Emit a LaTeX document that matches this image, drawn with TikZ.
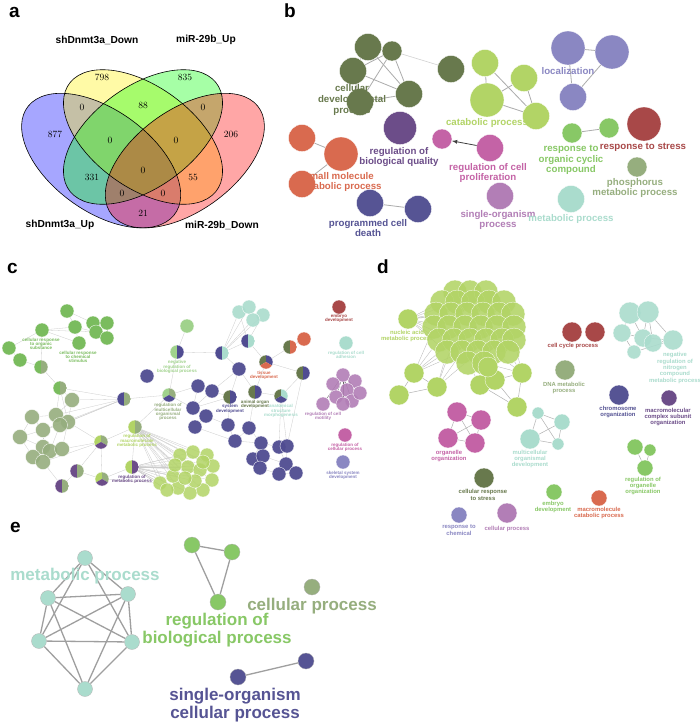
\documentclass[tikz,border=0pt]{standalone}
\usepackage{fontspec}
\setsansfont{Liberation Sans}
\usetikzlibrary{arrows,positioning,shapes}

\definecolor{olv}{RGB}{104,121,77}
\definecolor{prp}{RGB}{108,77,137}
\definecolor{orr}{RGB}{217,106,79}
\definecolor{dbl}{RGB}{86,84,148}
\definecolor{lim}{RGB}{178,212,102}
\definecolor{pnk}{RGB}{196,99,166}
\definecolor{lil}{RGB}{178,126,182}
\definecolor{per}{RGB}{138,135,194}
\definecolor{grn}{RGB}{136,200,102}
\definecolor{drd}{RGB}{168,72,72}
\definecolor{sag}{RGB}{150,174,126}
\definecolor{mnt}{RGB}{170,220,205}
\definecolor{cgr}{RGB}{122,188,94}
\definecolor{lgr}{RGB}{160,210,140}
\definecolor{cbl}{RGB}{80,76,145}

\pgfdeclarelayer{bg}
\pgfsetlayers{bg,main}

\begin{document}
\begin{tikzpicture}[x=1pt, y=-1pt,
    go/.style 2 args={circle, inner sep=0pt, fill=#1, minimum size=#2pt, draw=white, line width=.3pt},
    half/.style 2 args={circle, inner sep=0pt, minimum size=14pt, draw=white, line width=.3pt,
      path picture={\fill[#1] (path picture bounding box.south west) rectangle (path picture bounding box.north);
        \fill[#2] (path picture bounding box.south) rectangle (path picture bounding box.north east);}},
    tri/.style n args={3}{circle, inner sep=0pt, minimum size=14pt, draw=white, line width=.3pt,
      path picture={\fill[#1] (path picture bounding box.center) -- ++(90:8pt) arc[start angle=90, end angle=210, radius=8pt] -- cycle;
        \fill[#2] (path picture bounding box.center) -- ++(90:8pt) arc[start angle=90, end angle=-30, radius=8pt] -- cycle;
        \fill[#3] (path picture bounding box.center) -- ++(210:8pt) arc[start angle=210, end angle=330, radius=8pt] -- cycle;}},
    lb/.style={font=\sffamily\bfseries\fontsize{9.7}{10.7}\selectfont, align=center, inner sep=0pt},
    lc/.style={font=\sffamily\bfseries\fontsize{4.5}{4.3}\selectfont, align=center, inner sep=0pt},
    ld/.style={font=\sffamily\bfseries\fontsize{5.9}{6.3}\selectfont, align=center, inner sep=0pt},
    le/.style={font=\sffamily\bfseries\fontsize{17}{17.5}\selectfont, align=center, inner sep=0pt},
    panel/.style={font=\sffamily\bfseries\fontsize{19}{19}\selectfont, anchor=base west, inner sep=0pt},
    vset/.style={font=\sffamily\bfseries\fontsize{10.2}{10.2}\selectfont, inner sep=0pt},
    vnum/.style={font=\fontsize{9.5}{9.5}\selectfont, inner sep=0pt},
    eb/.style={draw=gray!65, line width=.8pt},
    ec/.style={draw=gray!40, line width=.3pt},
    ee/.style={draw=gray!75, line width=1.3pt}
]
\begin{pgfonlayer}{bg}
\fill[white] (0,0) rectangle (700,724);
\end{pgfonlayer}
\useasboundingbox (0,0) rectangle (700,724);

% panel letters
\node[panel] (pa) at (9,17) {a};
\node[panel] (pb) at (284,17) {b};
\node[panel] (pc) at (7,273) {c};
\node[panel] (pd) at (377,273) {d};
\node[panel] (pe) at (10,532) {e};

% a: Venn diagram
\begin{scope}[shift={(143,137)}, xscale=2.79, yscale=2.36, x=100pt, y=100pt]
  \fill[blue, fill opacity=.35, rotate around={135:(-0.15,-0.10)}] (-0.15,-0.10) ellipse (0.35 and 0.2);
  \fill[yellow, fill opacity=.35, rotate around={135:(0,0)}] (0,0) ellipse (0.35 and 0.2);
  \fill[green, fill opacity=.35, rotate around={45:(0,0)}] (0,0) ellipse (0.35 and 0.2);
  \fill[red, fill opacity=.35, rotate around={45:(0.15,-0.10)}] (0.15,-0.10) ellipse (0.35 and 0.2);
  \draw[line width=.6pt, rotate around={135:(-0.15,-0.10)}] (-0.15,-0.10) ellipse (0.35 and 0.2);
  \draw[line width=.6pt, rotate around={135:(0,0)}] (0,0) ellipse (0.35 and 0.2);
  \draw[line width=.6pt, rotate around={45:(0,0)}] (0,0) ellipse (0.35 and 0.2);
  \draw[line width=.6pt, rotate around={45:(0.15,-0.10)}] (0.15,-0.10) ellipse (0.35 and 0.2);
\end{scope}
\node[vset] (sdown) at (97,40) {shDnmt3a\_Down};
\node[vset] (mup) at (206,40) {miR-29b\_Up};
\node[vset] (sup) at (60,225) {shDnmt3a\_Up};
\node[vset] (mdown) at (222,225) {miR-29b\_Down};
\foreach \x/\y/\n [count=\i] in {55/134/877, 102/77/798, 185/77/835, 231/134/206, 82/107/0, 143/105/88,
    203/107/0, 110/140/0, 176/140/0, 92/177/331, 143/170/0, 193/177/55, 122/193/0, 163/193/0, 143/213/21}
  \node[vnum] (v\i) at (\x,\y) {\n};

% b: network
\node[go={olv}{27}] (ba1) at (368,47) {};
\node[go={olv}{20}] (ba2) at (392,51) {};
\node[go={olv}{27}] (ba3) at (353,71) {};
\node[go={olv}{27}] (ba4) at (409,94) {};
\node[go={olv}{27}] (ba5) at (360,102) {};
\node[go={olv}{27}] (ba6) at (451,69) {};
\node[go={prp}{33}] (bq) at (400,128) {};
\node[go={orr}{27}] (bs1) at (302,138) {};
\node[go={orr}{34}] (bs2) at (341,154) {};
\node[go={orr}{27}] (bs3) at (302,184) {};
\node[go={dbl}{27}] (bp1) at (370,203) {};
\node[go={dbl}{27}] (bp2) at (418,209) {};
\node[go={lim}{27}] (bk1) at (485,63) {};
\node[go={lim}{34}] (bk2) at (487,100) {};
\node[go={lim}{27}] (bk3) at (524,78) {};
\node[go={lim}{27}] (bk4) at (536,116) {};
\node[go={pnk}{20}] (bc1) at (442,139) {};
\node[go={pnk}{27}] (bc2) at (490,148) {};
\node[go={lil}{27}] (bo) at (500,196) {};
\node[go={per}{34}] (bl1) at (568,48) {};
\node[go={per}{34}] (bl2) at (612,52) {};
\node[go={per}{27}] (bl3) at (573,97) {};
\node[go={grn}{20}] (br1) at (572,133) {};
\node[go={grn}{20}] (br2) at (609,128) {};
\node[go={drd}{34}] (bt) at (644,124) {};
\node[go={sag}{20}] (bh) at (637,167) {};
\node[go={mnt}{27}] (bm) at (571,199) {};
\begin{pgfonlayer}{bg}
\foreach \a/\b in {ba1/ba3, ba1/ba2, ba2/ba4, ba2/ba3, ba3/ba4, ba5/ba2, ba5/ba4, ba3/ba5, ba1/ba4,
    bs1/bs2, bs2/bs3, bp1/bp2, bk1/bk2, bk1/bk4, bk2/bk3, bk2/bk4, bk3/bk4, bl1/bl2, bl1/bl3, bl2/bl3, br1/br2}
  \draw[eb] (\a) -- (\b);
\draw[draw=gray!35, line width=.6pt] (ba2) -- (ba6);
\end{pgfonlayer}
\draw[-latex, line width=.8pt, black!75] (bc2) -- (bc1);
\node[lb, text=olv] (tb1) at (352,100) {cellular\\developmental\\process};
\node[lb, text=prp] (tb2) at (399,157) {regulation of\\biological quality};
\node[lb, text=orr] (tb3) at (339,182) {small molecule\\metabolic process};
\node[lb, text=dbl] (tb4) at (368,228) {programmed cell\\death};
\node[lb, text=lim] (tb5) at (487,123) {catabolic process};
\node[lb, text=pnk] (tb6) at (488,173) {regulation of cell\\proliferation};
\node[lb, text=lil] (tb7) at (498,220) {single-organism\\process};
\node[lb, text=per] (tb8) at (568,71) {localization};
\node[lb, text=grn] (tb9) at (571,160) {response to\\organic cyclic\\compound};
\node[lb, text=drd] (tb10) at (643,147) {response to stress};
\node[lb, text=sag] (tb11) at (635,188) {phosphorus\\metabolic process};
\node[lb, text=mnt] (tb12) at (571,219) {metabolic process};

% c: network
\foreach \x/\y [count=\i] in {67/311, 93/323, 107/323, 75/327, 96/332, 107/338, 79/343, 42/330, 9/348, 20/360}
  \node[go={cgr}{14}] (cg\i) at (\x,\y) {};
\node[half={cgr}{sag}] (ch1) at (41,367) {};
\node[half={cgr}{sag}] (ch2) at (60,388) {};
\foreach \x/\y [count=\i] in {72/400, 32/417, 20/437, 43/430, 56/415, 68/422, 60/425, 43/447, 50/451, 62/449, 33/457, 43/462}
  \node[go={sag}{15}, fill opacity=.9] (cs\i) at (\x,\y) {};
\node[half={cbl}{sag}] (cx1) at (124,399) {};
\node[go={lgr}{14}] (cl1) at (187,326) {};
\node[half={lgr}{cbl}] (cx2) at (177,352) {};
\node[tri={lgr}{sag}{cbl}] (cx3) at (169,395) {};
\foreach \x/\y [count=\i] in {147/376, 198/386, 212/391, 239/369, 193/408, 206/416, 195/427, 228/425, 249/428,
    235/441, 261/443, 279/447, 287/446, 253/459, 263/456, 260/468, 286/464, 279/474, 296/473}
  \node[go={cbl}{14}, fill opacity=.95] (cb\i) at (\x,\y) {};
\node[half={cbl}{mnt}] (cx4) at (222,353) {};
\node[half={cbl}{mnt}] (cx5) at (248,341) {};
\foreach \x/\y [count=\i] in {239/312, 249/307, 263/315, 253/320}
  \node[go={mnt}{14}, fill opacity=.9] (cm\i) at (\x,\y) {};
\node[half={olv}{cbl}] (cx6) at (230,397) {};
\node[half={olv}{cbl}] (cx7) at (255,392) {};
\node[half={olv}{cbl}] (cx8) at (303,373) {};
\node[tri={olv}{cbl}{orr}] (cx9) at (266,362) {};
\node[tri={olv}{mnt}{cbl}] (cx10) at (281,396) {};
\node[half={olv}{orr}] (cx11) at (290,347) {};
\node[go={orr}{14}] (cr1) at (304,339) {};
\node[half={lim}{sag}] (cx12) at (135,427) {};
\node[half={lim}{prp}] (cx13) at (132,467) {};
\node[tri={lim}{sag}{prp}] (cx14) at (101,442) {};
\node[tri={lim}{sag}{prp}] (cx15) at (102,479) {};
\node[half={prp}{sag}] (cx16) at (77,471) {};
\node[half={prp}{sag}] (cx17) at (62,486) {};
\foreach \x/\y [count=\i] in {180/455, 193/452, 207/455, 213/466, 212/480, 203/490, 190/493, 178/488, 173/476,
    175/465, 188/467, 200/470, 195/481, 185/478, 203/462, 160/483, 167/490}
  \node[go={lim}{14}, fill opacity=.85] (ck\i) at (\x,\y) {};
\node[go={drd}{14}] (cr2) at (339,307) {};
\node[go={mnt}{14}] (cm5) at (346,343) {};
\foreach \x/\y [count=\i] in {343/375, 355/381, 333/384, 347/390, 336/397, 352/401, 360/393, 323/404, 343/404}
  \node[go={lil}{14}, fill opacity=.9] (co\i) at (\x,\y) {};
\node[go={pnk}{14}] (cp1) at (345,435) {};
\node[go={per}{14}] (cw1) at (343,462) {};
\begin{pgfonlayer}{bg}
\foreach \a/\b in {cg1/cg2, cg1/cg4, cg2/cg3, cg2/cg5, cg4/cg5, cg3/cg6, cg5/cg6, cg4/cg7, cg8/cg4, cg8/cg7,
    cg8/cg5, cg8/cg9, cg9/cg10, cg10/ch1, ch1/cg8, ch1/ch2, ch2/cs1, ch2/cs5, ch2/cs6, ch2/cx1,
    cs1/cs5, cs1/cs6, cs2/cs4, cs2/cs5, cs3/cs4, cs3/cs8, cs4/cs7, cs4/cs8, cs5/cs7, cs6/cs10, cs7/cs9,
    cs8/cs11, cs9/cs12, cs10/cs12, cs11/cs12, cs2/cs3, cs3/cs11,
    cx1/cs5, cx1/cs6, cx1/cs7, cx1/cs1, cx1/cs4, cx1/cx3, cx3/cx2, cx3/cb2, cx3/cb5, cx3/cx12, cx2/cl1, cx2/cx4,
    cb2/cb3, cb2/cb5, cb3/cb4, cb3/cx6, cb3/cb5, cb4/cx4, cb4/cx6, cb4/cx7, cx4/cm1, cx4/cm2, cx4/cm3, cx4/cm4,
    cx5/cm1, cx5/cm3, cx4/cx5, cx5/cx9, cx9/cx11, cx11/cr1, cx9/cx7, cx9/cx8, cx7/cx10, cx10/cx8, cx10/cb12,
    cx10/cb13, cx8/cb13, cx6/cb8, cx7/cb9, cb5/cb6, cb6/cb7, cb6/cb8, cb8/cb10, cb9/cb10, cb9/cb11, cb10/cb11,
    cb11/cb12, cb11/cb14, cb12/cb13, cb12/cb17, cb14/cb15, cb15/cb16, cb16/cb18, cb17/cb18, cb17/cb19,
    cb18/cb19, cb13/cb17, cb15/cb17, cb14/cb16, cb7/cb10, cb5/cx6,
    cx12/cx14, cx12/cx13, cx14/cx15, cx14/cx16, cx15/cx16, cx16/cx17, cx15/cx13, cx14/cs6, cx14/cs10,
    cx14/cs12, cx17/cs12, cx15/ck16, cx13/ck16, cx13/ck17}
  \draw[ec] (\a) -- (\b);
\foreach \j in {1,...,17} {
  \draw[ec] (cx12) -- (ck\j);
  \draw[ec] (cx13) -- (ck\j);
}
\foreach \j in {2,...,9}
  \draw[ec, draw=black!70] (co1) -- (co\j);
\end{pgfonlayer}
\node[lc, text=cgr] (tc1) at (41,344) {cellular response\\to organic\\substance};
\node[lc, text=cgr] (tc2) at (78,357) {cellular response\\to chemical\\stimulus};
\node[lc, text=lgr] (tc3) at (177,367) {negative\\regulation of\\biological process};
\node[lc, text=sag] (tc4) at (168,412) {regulation of\\multicellular\\organismal\\process};
\node[lc, text=orr] (tc5) at (264,375) {tissue\\development};
\node[lc, text=olv] (tc6) at (255,404) {animal organ\\development};
\node[lc, text=cbl] (tc7) at (230,409) {system\\development};
\node[lc, text=mnt] (tc8) at (281,411) {anatomical\\structure\\morphogenesis};
\node[lc, text=lim] (tc9) at (137,441) {regulation of\\macromolecule\\metabolic process};
\node[lc, text=prp] (tc10) at (132,479) {regulation of\\metabolic process};
\node[lc, text=drd] (tc11) at (339,318) {embryo\\development};
\node[lc, text=mnt] (tc12) at (346,355) {regulation of cell\\adhesion};
\node[lc, text=lil] (tc13) at (323,416) {regulation of cell\\motility};
\node[lc, text=pnk] (tc14) at (345,447) {regulation of\\cellular process};
\node[lc, text=per] (tc15) at (343,475) {skeletal system\\development};

% d: network
\foreach \x/\y [count=\i] in {455/292, 470/292, 486/292, 442/302, 457/302, 473/302, 489/302, 504/302,
    436/314, 451/314, 467/314, 483/314, 499/314, 513/314, 434/327, 449/327, 465/327, 481/327, 497/327, 514/327,
    439/340, 454/340, 470/340, 486/340, 502/340, 514/340, 447/352, 462/352, 478/352, 494/352, 508/352, 468/363, 484/363}
  \node[go={lim}{24}, fill opacity=.88] (dk\i) at (\x,\y) {};
\node[go={lim}{20}] (dn) at (408,319) {};
\foreach \x/\y [count=\i] in {414/373, 437/387, 399/395, 522/373, 517/407, 480/385, 495/380, 488/367}
  \node[go={lim}{20}] (dl\i) at (\x,\y) {};
\node[go={drd}{20}] (dr1) at (572,332) {};
\node[go={drd}{20}] (dr2) at (595,332) {};
\node[go={sag}{20}] (ds) at (565,370) {};
\foreach \x/\y/\s [count=\i] in {630/313/22, 648/312/22, 622/333/18, 643/338/18, 653/343/18, 673/340/20, 634/352/14}
  \node[go={mnt}{\s}, fill opacity=.9] (dm\i) at (\x,\y) {};
\node[go={dbl}{20}] (db) at (619,395) {};
\node[go={prp}{16}] (dq) at (669,398) {};
\foreach \x/\y [count=\i] in {457/412, 481/420, 448/438, 475/443}
  \node[go={pnk}{20}] (dp\i) at (\x,\y) {};
\foreach \x/\y/\s [count=\i] in {538/413/12, 562/422/16, 530/439/20, 558/444/12}
  \node[go={mnt}{\s}] (dt\i) at (\x,\y) {};
\node[go={grn}{16}] (dg1) at (635,447) {};
\node[go={grn}{12}] (dg2) at (650,450) {};
\node[go={grn}{16}] (dg3) at (645,468) {};
\node[go={olv}{20}] (do) at (484,478) {};
\node[go={grn}{16}] (dg4) at (554,492) {};
\node[go={orr}{16}] (dx) at (599,498) {};
\node[go={per}{16}] (dw) at (459,515) {};
\node[go={lil}{20}] (dv) at (507,513) {};
\begin{pgfonlayer}{bg}
\foreach \j in {4,9,10,15,16,21,22,27,5,11}
  \draw[ec, draw=gray!60] (dn) -- (dk\j);
\foreach \j in {21,22,27,28,15}
  \draw[ec, draw=gray!60] (dl1) -- (dk\j);
\foreach \j in {27,28,29,22}
  \draw[ec, draw=gray!60] (dl2) -- (dk\j);
\foreach \j in {30,31,26,33}
  \draw[ec, draw=gray!60] (dl4) -- (dk\j);
\foreach \j in {32,33,30}
  \draw[ec, draw=gray!60] (dl6) -- (dk\j);
\foreach \j in {11,12,17,18,23,24,29}
  \draw[ec, draw=black!60, line width=.5pt] (dk18) -- (dk\j);
\foreach \a/\b in {dl1/dl2, dl1/dl3, dl2/dl3, dl4/dl5, dl4/dl7, dl5/dl6, dl6/dl7, dl5/dl7, dl8/dl7,
    dm1/dm2, dm1/dm3, dm1/dm4, dm2/dm5, dm2/dm6, dm3/dm4, dm4/dm6, dm5/dm6, dm3/dm7, dm4/dm7, dm6/dm7, dm2/dm4,
    dp1/dp2, dp1/dp3, dp2/dp4, dp3/dp4, dp1/dp4, dp2/dp3,
    dt1/dt2, dt1/dt3, dt1/dt4, dt2/dt3, dt2/dt4, dt3/dt4, dg1/dg3, dg2/dg3}
  \draw[ec, draw=gray!60, line width=.5pt] (\a) -- (\b);
\end{pgfonlayer}
\node[ld, text=lim] (td1) at (407,336) {nucleic acid\\metabolic process};
\node[ld, text=drd] (td2) at (573,346) {cell cycle process};
\node[ld, text=sag] (td3) at (564,388) {DNA metabolic\\process};
\node[ld, text=mnt] (td4) at (675,368) {negative\\regulation of\\nitrogen\\compound\\metabolic process};
\node[ld, text=dbl] (td5) at (618,412) {chromosome\\organization};
\node[ld, text=prp] (td6) at (668,417) {macromolecular\\complex subunit\\organization};
\node[ld, text=pnk] (td7) at (449,456) {organelle\\organization};
\node[ld, text=mnt] (td8) at (530,459) {multicellular\\organismal\\development};
\node[ld, text=grn] (td9) at (643,486) {regulation of\\organelle\\organization};
\node[ld, text=olv] (td10) at (483,495) {cellular response\\to stress};
\node[ld, text=grn] (td11) at (553,507) {embryo\\development};
\node[ld, text=orr] (td12) at (599,513) {macromolecule\\catabolic process};
\node[ld, text=per] (td13) at (459,530) {response to\\chemical};
\node[ld, text=lil] (td14) at (507,529) {cellular process};

% e: network
\foreach \x/\y [count=\i] in {85/558, 48/598, 128/594, 39/641, 132/642, 85/689}
  \node[go={mnt}{15}, draw=black!30] (em\i) at (\x,\y) {};
\node[go={grn}{16}, draw=black!30] (eg1) at (192,545) {};
\node[go={grn}{16}, draw=black!30] (eg2) at (232,552) {};
\node[go={grn}{16}, draw=black!30] (eg3) at (218,602) {};
\node[go={sag}{16}, draw=black!30] (es) at (312,587) {};
\node[go={dbl}{16}, draw=black!30] (eb1) at (306,661) {};
\node[go={dbl}{16}, draw=black!30] (eb2) at (238,677) {};
\begin{pgfonlayer}{bg}
\foreach \a/\b in {em1/em2, em1/em3, em1/em4, em1/em5, em2/em3, em2/em4, em2/em5, em2/em6,
    em3/em4, em3/em5, em3/em6, em4/em5, em4/em6, em5/em6, eg1/eg2, eg2/eg3, eg3/eg1, eb1/eb2}
  \draw[ee] (\a) -- (\b);
\end{pgfonlayer}
\node[le, text=mnt] (te1) at (85,576) {metabolic process};
\node[le, text=grn] (te2) at (217,630) {regulation of\\biological process};
\node[le, text=sag] (te3) at (312,606) {cellular process};
\node[le, text=dbl] (te4) at (235,705) {single-organism\\cellular process};
\end{tikzpicture}
\end{document}
